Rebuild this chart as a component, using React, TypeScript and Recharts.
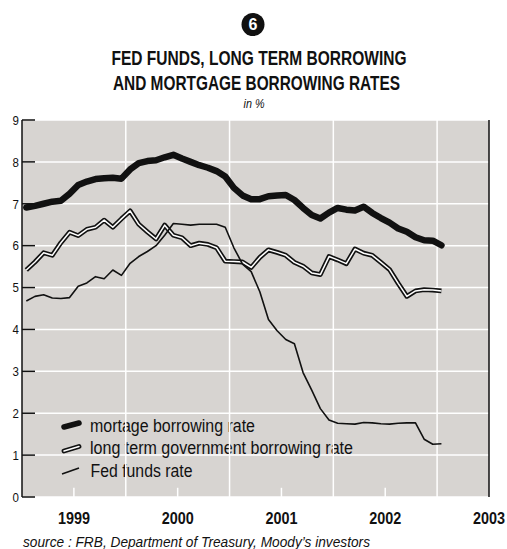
import React from 'react';
import { LineChart, Line, XAxis, YAxis, ReferenceLine, Customized, CartesianGrid } from 'recharts';

// Monthly observations, Jan 1999 .. Jan 2003 (in %)
const mortgageRate = [
  6.91, 6.95, 7.0, 7.05, 7.07, 7.24, 7.45, 7.53, 7.59, 7.61, 7.62, 7.6,
  7.82, 7.97, 8.02, 8.04, 8.11, 8.17, 8.08, 8.0, 7.92, 7.86, 7.78, 7.65,
  7.38, 7.2, 7.11, 7.11, 7.18, 7.2, 7.21, 7.09, 6.9, 6.73, 6.65, 6.79,
  6.9, 6.86, 6.84, 6.93, 6.78, 6.66, 6.55, 6.41, 6.33, 6.2, 6.13, 6.12,
  6.01,
];
const longTermRate = [
  5.42, 5.61, 5.83, 5.77, 6.07, 6.32, 6.24, 6.39, 6.44, 6.61, 6.44, 6.64,
  6.83, 6.51, 6.33, 6.16, 6.49, 6.25, 6.19, 6.0, 6.06, 6.03, 5.95, 5.63,
  5.62, 5.61, 5.48, 5.72, 5.9, 5.84, 5.77, 5.6, 5.51, 5.35, 5.31, 5.74,
  5.66, 5.57, 5.92, 5.82, 5.77, 5.6, 5.43, 5.1, 4.79, 4.92, 4.95, 4.94,
  4.92,
];
const fedFundsRate = [
  4.68, 4.79, 4.83, 4.75, 4.74, 4.76, 5.03, 5.11, 5.26, 5.21, 5.42, 5.29,
  5.58, 5.74, 5.86, 6.0, 6.25, 6.53, 6.51, 6.49, 6.51, 6.51, 6.51, 6.44,
  5.95, 5.56, 5.38, 4.9, 4.24, 3.97, 3.76, 3.66, 2.97, 2.55, 2.11, 1.84,
  1.76, 1.75, 1.74, 1.78, 1.77, 1.75, 1.74, 1.76, 1.77, 1.77, 1.38, 1.26,
  1.27,
];

// time axis in months since January 1999
const yearLabelTicks = [6, 18, 30, 42, 54];
const yearLabels = ['1999', '2000', '2001', '2002', '2003'];
const yearStartTicks = [12, 24, 36, 48];
const yearMidMarks = [6, 18, 30, 42];
const yTicks = [0, 1, 2, 3, 4, 5, 6, 7, 8, 9];

const data = mortgageRate.map((m, i) => ({
  t: i + 0.5,
  mortgage: m,
  longTerm: longTermRate[i],
  fed: fedFundsRate[i],
}));

const SANS = "'Liberation Sans', Arial, Helvetica, sans-serif";
const GREY = '#d7d4d1';
const INK = '#111111';

const YTick = (props: any) => {
  const { x, y, payload, textAnchor } = props;
  return (
    <text x={x} y={y + 4.8} textAnchor={textAnchor} fill={INK} fontFamily={SANS} fontSize={13.5}
      textLength={6.4} lengthAdjust="spacingAndGlyphs">{String(payload.value)}</text>
  );
};

const XTick = (props: any) => {
  const { x, y, payload } = props;
  const label = yearLabels[yearLabelTicks.indexOf(payload.value)];
  return (
    <text x={x} y={y + 10.6} textAnchor="middle" fill={INK} fontFamily={SANS} fontWeight="bold" fontSize={16}
      textLength={32} lengthAdjust="spacingAndGlyphs">{label}</text>
  );
};

const Decorations = () => (
  <g>
    <circle cx={253} cy={24.5} r={11.5} fill={INK} />
    <text x={253} y={30.3} textAnchor="middle" fill="#fff" fontFamily={SANS} fontWeight="bold" fontSize={16}>6</text>
    <text x={259} y={65} textAnchor="middle" fill={INK} fontFamily={SANS} fontWeight="bold" fontSize={19.5}
      textLength={295} lengthAdjust="spacingAndGlyphs">FED FUNDS, LONG TERM BORROWING</text>
    <text x={256.5} y={90} textAnchor="middle" fill={INK} fontFamily={SANS} fontWeight="bold" fontSize={19.5}
      textLength={287} lengthAdjust="spacingAndGlyphs">AND MORTGAGE BORROWING RATES</text>
    <text x={254} y={107.5} textAnchor="middle" fill={INK} fontFamily={SANS} fontStyle="italic" fontSize={13}
      textLength={21} lengthAdjust="spacingAndGlyphs">in %</text>

    {/* legend */}
    <line x1={64} y1={427} x2={79} y2={423} stroke={INK} strokeWidth={5.5} strokeLinecap="round" />
    <line x1={64} y1={451} x2={79} y2={446.5} stroke={INK} strokeWidth={4.8} strokeLinecap="round" />
    <line x1={64} y1={451} x2={79} y2={446.5} stroke="#fff" strokeWidth={1.5} strokeLinecap="round" />
    <line x1={62} y1={474} x2={79} y2={468} stroke={INK} strokeWidth={1.6} />
    <text x={90} y={431.5} fill={INK} fontFamily={SANS} fontSize={17.5} textLength={165} lengthAdjust="spacingAndGlyphs">mortage borrowing rate</text>
    <text x={90} y={454} fill={INK} fontFamily={SANS} fontSize={17.5} textLength={263} lengthAdjust="spacingAndGlyphs">long term government borrowing rate</text>
    <text x={90.5} y={476.5} fill={INK} fontFamily={SANS} fontSize={17.5} textLength={102} lengthAdjust="spacingAndGlyphs">Fed funds rate</text>

    <text x={23} y={546.5} fill={INK} fontFamily={SANS} fontStyle="italic" fontSize={14} textLength={347} lengthAdjust="spacingAndGlyphs">source : FRB, Department of Treasury, Moody’s investors</text>
  </g>
);

export default function App() {
  return (
    <div style={{ position: 'absolute', left: 0, top: 0, width: 507, height: 549, background: '#fff' }}>
      <LineChart width={507} height={549} data={data} margin={{ top: 120, right: 0, bottom: 22, left: 0 }}>
        <CartesianGrid fill={GREY} stroke="#fff" strokeWidth={1.5} vertical={false} yAxisId="left" />
        {yearStartTicks.map((x) => (
          <ReferenceLine key={'g' + x} x={x} yAxisId="left" stroke="#fff" strokeWidth={1.5} />
        ))}
        {yearMidMarks.map((x) => (
          <ReferenceLine key={'m' + x} yAxisId="left" segment={[{ x, y: 0 }, { x, y: 0.22 }]} stroke="#fff" strokeWidth={1.5} />
        ))}
        <XAxis
          dataKey="t"
          type="number"
          domain={[0, 54]}
          ticks={yearLabelTicks}
          axisLine={false}
          tickLine={false}
          tickSize={6}
          tickMargin={10}
          height={30}
          allowDataOverflow
          interval={0}
          tick={<XTick />}
        />
        <YAxis
          yAxisId="left"
          orientation="left"
          domain={[0, 9]}
          ticks={yTicks}
          interval={0}
          width={22}
          axisLine={{ stroke: INK, strokeWidth: 1.5 }}
          tickLine={{ stroke: INK, strokeWidth: 1.5 }}
          tickSize={-13}
          tickMargin={16}
          tick={<YTick />}
        />
        <YAxis
          yAxisId="right"
          orientation="right"
          domain={[0, 9]}
          ticks={yTicks}
          interval={0}
          width={18}
          axisLine={{ stroke: INK, strokeWidth: 1.5 }}
          tickLine={{ stroke: INK, strokeWidth: 1.5 }}
          tickSize={-15}
          tickMargin={18}
          tick={<YTick />}
        />
        <Line yAxisId="left" type="linear" dataKey="longTerm" stroke={INK} strokeWidth={4.8} dot={false} isAnimationActive={false} strokeLinejoin="round" />
        <Line yAxisId="left" type="linear" dataKey="longTerm" stroke="#fff" strokeWidth={1.5} dot={false} isAnimationActive={false} strokeLinejoin="round" />
        <Line yAxisId="left" type="linear" dataKey="fed" stroke={INK} strokeWidth={1.6} dot={false} isAnimationActive={false} strokeLinejoin="round" />
        <Line yAxisId="left" type="linear" dataKey="mortgage" stroke={INK} strokeWidth={6.5} dot={false} isAnimationActive={false} strokeLinejoin="round" strokeLinecap="round" />
        <Customized component={Decorations} />
      </LineChart>
    </div>
  );
}
